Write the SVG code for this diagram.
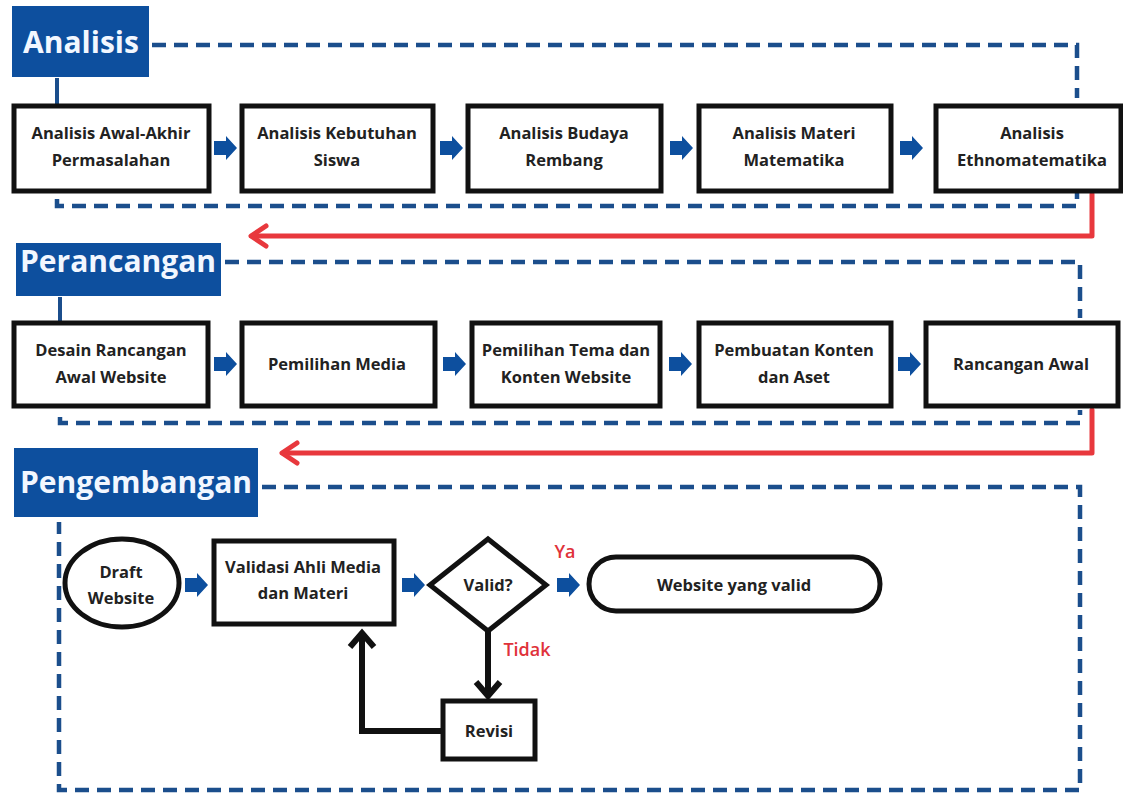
<svg xmlns="http://www.w3.org/2000/svg" xmlns:xlink="http://www.w3.org/1999/xlink" width="1123" height="794" viewBox="0 0 1123 794">
<style>
.hdr{fill:#0d4f9e}
.hdrt{font-family:"Open Sans","Liberation Sans",sans-serif;font-weight:700;font-size:30px;fill:#f2f7ff}
.box{fill:#fff;stroke:#111;stroke-width:5}
.t{font-family:"Open Sans","Liberation Sans",sans-serif;font-weight:700;font-size:16.5px;fill:#222;text-anchor:middle}
.dash{fill:none;stroke:#1b4e8c;stroke-width:4.5;stroke-dasharray:14 8}
.red{fill:none;stroke:#e8383d;stroke-width:5;stroke-linecap:round;stroke-linejoin:round}
.blk{fill:none;stroke:#111;stroke-width:6;stroke-linejoin:miter}
.ba{fill:#0d4f9e}
.lbl{font-family:"Open Sans","Liberation Sans",sans-serif;font-weight:600;font-size:18px;fill:#e0323a}
</style>
<defs>
<path id="ba" class="ba" d="M0,-7 H12 V-12 L23,0 L12,12 V7 H0 Z"/>
</defs>
<rect width="1123" height="794" fill="#fff"/>

<g id="connectors">
<path class="dash" d="M152,45 H1077 V98"/>
<path class="dash" d="M57,199 V206 H1077 V193"/>
<path d="M57,78 V104" stroke="#1b4e8c" stroke-width="4"/>
<path class="dash" d="M225,262 H1080 V318"/>
<path class="dash" d="M60,417 V423 H1080 V410"/>
<path d="M60,297 V321" stroke="#1b4e8c" stroke-width="4"/>
<path class="dash" d="M262,487 H1080 V790 H59 V522"/>
<path class="red" d="M1092,194 V236 H252"/>
<path class="red" d="M266,226 L251,236 L266,246"/>
<path class="red" d="M1092,410 V453 H283"/>
<path class="red" d="M297,443 L282,453 L297,463"/>
<use xlink:href="#ba" x="214" y="148"/>
<use xlink:href="#ba" x="440" y="148"/>
<use xlink:href="#ba" x="670" y="148"/>
<use xlink:href="#ba" x="900" y="148"/>
<use xlink:href="#ba" x="214" y="364"/>
<use xlink:href="#ba" x="443" y="364"/>
<use xlink:href="#ba" x="669" y="364"/>
<use xlink:href="#ba" x="898" y="364"/>
<use xlink:href="#ba" x="185" y="585"/>
<use xlink:href="#ba" x="402" y="585"/>
<use xlink:href="#ba" x="557" y="585"/>
<path class="blk" d="M488,631 V694"/>
<path class="blk" d="M476,682 L488,696 L500,682"/>
<path class="blk" d="M442,731 H362 V634"/>
<path class="blk" d="M350,647 L362,633 L374,647"/>
<text class="lbl" x="565" y="558" text-anchor="middle">Ya</text>
<text class="lbl" x="527" y="656" text-anchor="middle">Tidak</text>
</g>

<g id="hdr-analisis">
<rect class="hdr" x="12" y="6" width="137" height="71"/>
<text class="hdrt" x="81" y="53" text-anchor="middle">Analisis</text>
</g>
<g id="hdr-perancangan">
<rect class="hdr" x="16" y="243" width="205" height="53"/>
<text class="hdrt" x="118" y="272" text-anchor="middle">Perancangan</text>
</g>
<g id="hdr-pengembangan">
<rect class="hdr" x="14" y="448" width="244" height="69"/>
<text class="hdrt" x="136" y="493" text-anchor="middle">Pengembangan</text>
</g>

<g id="a1"><rect class="box" x="14" y="106" width="195" height="85"/>
<text class="t" x="111" y="139">Analisis Awal-Akhir</text><text class="t" x="111" y="166">Permasalahan</text></g>
<g id="a2"><rect class="box" x="242" y="106" width="191" height="85"/>
<text class="t" x="337" y="139">Analisis Kebutuhan</text><text class="t" x="337" y="166">Siswa</text></g>
<g id="a3"><rect class="box" x="468" y="106" width="193" height="85"/>
<text class="t" x="564" y="139">Analisis Budaya</text><text class="t" x="564" y="166">Rembang</text></g>
<g id="a4"><rect class="box" x="699" y="106" width="192" height="85"/>
<text class="t" x="794" y="139">Analisis Materi</text><text class="t" x="794" y="166">Matematika</text></g>
<g id="a5"><rect class="box" x="936" y="106" width="185" height="85"/>
<text class="t" x="1032" y="139">Analisis</text><text class="t" x="1032" y="166">Ethnomatematika</text></g>

<g id="p1"><rect class="box" x="14" y="323" width="194" height="83"/>
<text class="t" x="111" y="356">Desain Rancangan</text><text class="t" x="111" y="383">Awal Website</text></g>
<g id="p2"><rect class="box" x="242" y="323" width="193" height="83"/>
<text class="t" x="337" y="370">Pemilihan Media</text></g>
<g id="p3"><rect class="box" x="472" y="323" width="188" height="83"/>
<text class="t" x="566" y="356">Pemilihan Tema dan</text><text class="t" x="566" y="383">Konten Website</text></g>
<g id="p4"><rect class="box" x="699" y="323" width="192" height="83"/>
<text class="t" x="794" y="356">Pembuatan Konten</text><text class="t" x="794" y="383">dan Aset</text></g>
<g id="p5"><rect class="box" x="926" y="323" width="192" height="83"/>
<text class="t" x="1021" y="370">Rancangan Awal</text></g>

<g id="draft"><ellipse class="box" cx="122" cy="583" rx="57" ry="44"/>
<text class="t" x="121" y="578">Draft</text><text class="t" x="121" y="604">Website</text></g>
<g id="validasi"><rect class="box" x="214" y="541" width="180" height="83"/>
<text class="t" x="303" y="573">Validasi Ahli Media</text><text class="t" x="303" y="599">dan Materi</text></g>
<g id="valid"><path class="box" d="M488,539 L546,585 L488,631 L430,585 Z"/>
<text class="t" x="488" y="591">Valid?</text></g>
<g id="hasil"><rect class="box" x="589" y="557" width="291" height="54" rx="27"/>
<text class="t" x="734" y="591">Website yang valid</text></g>
<g id="revisi"><rect class="box" x="443" y="701" width="92" height="58"/>
<text class="t" x="489" y="737">Revisi</text></g>
</svg>
